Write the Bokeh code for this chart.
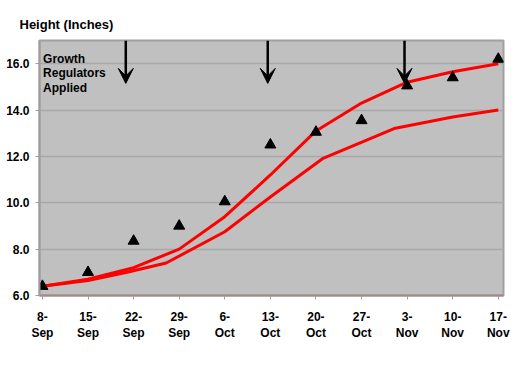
from bokeh.plotting import figure
from bokeh.models import Range1d, FixedTicker, Arrow, VeeHead, Label
from bokeh.embed import file_html
from bokeh.resources import INLINE

# days since 8-Sep
tick_days = [0, 7, 14, 21, 28, 35, 42, 49, 56, 63, 70]
tick_labels = ["8-\nSep", "15-\nSep", "22-\nSep", "29-\nSep", "6-\nOct", "13-\nOct",
               "20-\nOct", "27-\nOct", "3-\nNov", "10-\nNov", "17-\nNov"]

obs_days = [0, 7, 14, 21, 28, 35, 42, 49, 56, 63, 70]
obs_height = [6.4, 7.0, 8.35, 9.0, 10.05, 12.5, 13.05, 13.55, 15.05, 15.4, 16.2]

upper_days = [0, 7, 14, 21, 28, 35, 42, 49, 56, 63, 70]
upper_height = [6.4, 6.7, 7.2, 8.0, 9.4, 11.2, 13.1, 14.3, 15.2, 15.65, 16.0]

lower_days = [0, 7, 13, 19, 28, 35, 43, 54, 63, 70]
lower_height = [6.4, 6.65, 7.0, 7.4, 8.75, 10.25, 11.9, 13.2, 13.7, 14.0]

arrow_days = [12.8, 34.6, 55.6]
arrow_top = 17.0
arrow_tip = 15.15

p = figure(frame_width=464, frame_height=255, output_backend="svg",
           toolbar_location=None, x_range=Range1d(-0.45, 70.8),
           y_range=Range1d(6.0, 17.0),
           min_border_left=39, min_border_right=14, min_border_top=40,
           min_border_bottom=55)
p.background_fill_color = "#C0C0C0"
p.border_fill_color = "white"
p.outline_line_color = "#A0A0A0"
p.outline_line_width = 2

# title
p.title.text = "Height (Inches)"
p.title.text_font = "Liberation Sans"
p.title.text_font_size = "13px"
p.title.text_font_style = "bold"
p.title.text_color = "black"
p.title.offset = -20
p.title.standoff = 17

# grid
p.xgrid.grid_line_color = None
p.ygrid.grid_line_color = "#A8A8A8"
p.ygrid.grid_line_width = 1.5
p.yaxis.ticker = FixedTicker(ticks=[6, 8, 10, 12, 14, 16])
p.yaxis.major_label_overrides = {v: f"{v:.1f}" for v in [6, 8, 10, 12, 14, 16]}
p.xaxis.ticker = FixedTicker(ticks=tick_days)
p.xaxis.major_label_overrides = dict(zip(tick_days, tick_labels))

for ax in (p.xaxis, p.yaxis):
    ax.major_label_text_font = "Liberation Sans"
    ax.major_label_text_font_size = "12px"
    ax.major_label_text_font_style = "bold"
    ax.major_label_text_color = "black"
    ax.minor_tick_line_color = None
    ax.major_tick_line_color = "#A0A0A0"
    ax.major_tick_in = 0
    ax.major_tick_out = 4
p.yaxis.axis_line_color = "#A09C9C"
p.yaxis.axis_line_width = 2
p.xaxis.axis_line_color = "#A08888"
p.xaxis.axis_line_width = 2
p.xaxis.major_label_standoff = 10
p.yaxis.major_label_standoff = 6

p.line(lower_days, lower_height, line_color="#FF0000", line_width=3)
p.line(upper_days, upper_height, line_color="#FF0000", line_width=3)
p.scatter(obs_days, obs_height, marker="triangle", size=11, fill_color="black",
          line_color="black")

for d in arrow_days:
    p.add_layout(Arrow(x_start=d, y_start=arrow_top, x_end=d, y_end=arrow_tip,
                       line_color="black", line_width=2.5,
                       end=VeeHead(size=15, fill_color="black", line_color="black",
                                   line_width=1)))

for i, t in enumerate(["Growth", "Regulators", "Applied"]):
    p.add_layout(Label(x=0.1, y=16.22 - i * 0.63, text=t, text_font="Liberation Sans",
                       text_font_size="12px", text_font_style="bold",
                       text_color="black", text_baseline="middle"))

open("out.html", "w").write(file_html(p, INLINE))
